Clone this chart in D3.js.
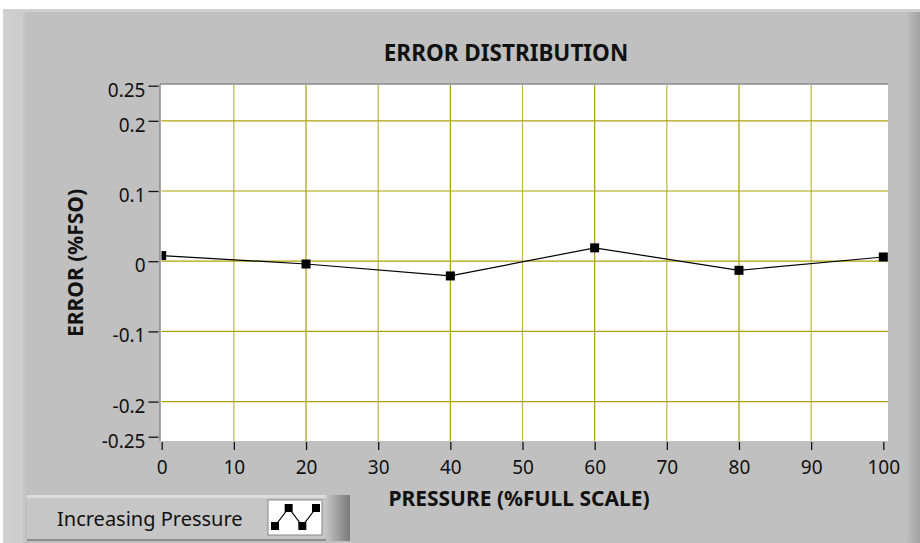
<!DOCTYPE html>
<meta charset="utf-8">
<style>
  body { margin: 0; padding: 0; background: #fff; }
  svg text { font-family: 'Noto Sans', 'Open Sans', sans-serif; fill: #111; }
  .tick text { font-size: 19px; }
  .ttl { font-size: 21px; font-weight: 700; }
</style>
<script src="https://d3js.org/d3.v7.min.js"></script>
<body>
<div id="chart"></div>
<script>
  // data
  let pressure = [0, 20, 40, 60, 80, 100];
  let errorVals = [0.008, -0.004, -0.021, 0.019, -0.013, 0.006];
  let xTicks = [0, 10, 20, 30, 40, 50, 60, 70, 80, 90, 100];
  let yTicks = [0.25, 0.2, 0.1, 0, -0.1, -0.2, -0.25];
  let yGrid = [0.2, 0.1, 0, -0.1, -0.2];
  let seriesName = "Increasing Pressure";

  let W = 920, H = 543;
  // plot frame
  let plot = {left: 160, right: 888, top: 84, bottom: 441};

  let svg = d3.select("#chart").append("svg")
    .attr("width", W).attr("height", H);

  let defs = svg.append("defs");
  let gr = defs.append("linearGradient").attr("id", "rightEdge");
  gr.append("stop").attr("offset", "0%").attr("stop-color", "#bdbdbd");
  gr.append("stop").attr("offset", "100%").attr("stop-color", "#a2a2a2");
  let gl = defs.append("linearGradient").attr("id", "leftEdge");
  gl.append("stop").attr("offset", "0%").attr("stop-color", "#d2d2d2");
  gl.append("stop").attr("offset", "80%").attr("stop-color", "#cbcbcb");
  gl.append("stop").attr("offset", "100%").attr("stop-color", "#c0c0c0");
  let lg = defs.append("linearGradient").attr("id", "legRight");
  lg.append("stop").attr("offset", "0%").attr("stop-color", "#c4c4c4");
  lg.append("stop").attr("offset", "100%").attr("stop-color", "#7a7a7a");
  defs.append("clipPath").attr("id", "plotClip")
    .append("rect")
    .attr("x", plot.left + 1.5).attr("y", plot.top + 1)
    .attr("width", plot.right - plot.left - 1.5).attr("height", plot.bottom - plot.top - 1);

  // gray panel with bevels
  svg.append("rect").attr("x", 3).attr("y", 9).attr("width", W - 3).attr("height", H - 9).attr("fill", "#c0c0c0");
  svg.append("rect").attr("x", 3).attr("y", 9).attr("width", 24).attr("height", H - 9).attr("fill", "url(#leftEdge)");
  svg.append("rect").attr("x", 907).attr("y", 9).attr("width", 13).attr("height", H - 9).attr("fill", "url(#rightEdge)");
  svg.append("rect").attr("x", 3).attr("y", 9).attr("width", W - 3).attr("height", 3).attr("fill", "#cfcfcf");

  // scales
  let x = d3.scaleLinear().domain([0, 100]).range([161.7, 883.3]);
  let y = d3.scaleLinear().domain([-0.25, 0.25]).range([436.7, 85.7]);

  // plot background
  svg.append("rect")
    .attr("x", plot.left).attr("y", plot.top)
    .attr("width", plot.right - plot.left).attr("height", plot.bottom - plot.top)
    .attr("fill", "#fff");

  // grid
  let grid = svg.append("g").attr("clip-path", "url(#plotClip)");
  grid.selectAll(".vg").data(xTicks.slice(1, -1)).join("line")
    .attr("x1", d => x(d)).attr("x2", d => x(d))
    .attr("y1", plot.top).attr("y2", plot.bottom)
    .attr("stroke", (d, i) => i % 2 ? "#a9a000" : "#bdb546")
    .attr("stroke-width", 1.2);
  grid.selectAll(".hg").data(yGrid).join("line")
    .attr("x1", plot.left).attr("x2", plot.right)
    .attr("y1", d => y(d)).attr("y2", d => y(d))
    .attr("stroke", "#aca30a")
    .attr("stroke-width", 1.2);

  // frame top/left (inset look)
  svg.append("line").attr("x1", plot.left).attr("x2", plot.right).attr("y1", plot.top).attr("y2", plot.top)
    .attr("stroke", "#8a8a8a").attr("stroke-width", 1.5);
  svg.append("line").attr("x1", plot.left).attr("x2", plot.left).attr("y1", plot.top).attr("y2", plot.bottom)
    .attr("stroke", "#8a8a8a").attr("stroke-width", 1.5);

  // axes
  let yAxis = svg.append("g")
    .attr("transform", `translate(${plot.left - 1.5},0)`)
    .call(d3.axisLeft(y).tickValues(yTicks).tickSize(10).tickPadding(3)
      .tickFormat(d => d === 0 ? "0" : String(d)));
  yAxis.select(".domain").remove();
  yAxis.selectAll(".tick line").attr("stroke", "#111").attr("stroke-width", 1.3);
  yAxis.selectAll(".tick text").attr("dy", "0.55em");

  let xAxis = svg.append("g")
    .attr("transform", `translate(0,${plot.bottom + 1})`)
    .call(d3.axisBottom(x).tickValues(xTicks).tickSize(8).tickPadding(11));
  xAxis.select(".domain").remove();
  xAxis.selectAll(".tick line").attr("stroke", "#111").attr("stroke-width", 1.3);

  // series
  let pts = pressure.map((p, i) => [p, errorVals[i]]);
  let series = svg.append("g").attr("clip-path", "url(#plotClip)");
  series.append("path")
    .attr("d", d3.line().x(d => x(d[0])).y(d => y(d[1]))(pts))
    .attr("fill", "none").attr("stroke", "#000").attr("stroke-width", 1.2);
  series.selectAll(".mk").data(pts).join("rect")
    .attr("x", d => x(d[0]) - 4.5).attr("y", d => y(d[1]) - 4.5)
    .attr("width", 9).attr("height", 9).attr("fill", "#000");

  // titles
  svg.append("text").attr("class", "ttl")
    .attr("x", 506).attr("y", 61).attr("text-anchor", "middle")
    .style("font-size", "22.5px")
    .text("ERROR DISTRIBUTION");
  svg.append("text").attr("class", "ttl")
    .attr("x", 519).attr("y", 506).attr("text-anchor", "middle")
    .text("PRESSURE (%FULL SCALE)");
  svg.append("text").attr("class", "ttl")
    .attr("transform", "translate(83,263) rotate(-90)")
    .attr("text-anchor", "middle")
    .text("ERROR (%FSO)");

  // legend
  let leg = svg.append("g");
  leg.append("rect").attr("x", 27).attr("y", 495).attr("width", 323).attr("height", 46).attr("fill", "#c6c6c6");
  leg.append("rect").attr("x", 27).attr("y", 495).attr("width", 323).attr("height", 3).attr("fill", "#dcdcdc");
  leg.append("rect").attr("x", 27).attr("y", 539).attr("width", 323).attr("height", 2).attr("fill", "#8c8c8c");
  leg.append("rect").attr("x", 326).attr("y", 495).attr("width", 24).attr("height", 46).attr("fill", "url(#legRight)");
  leg.append("text").attr("x", 57).attr("y", 526).style("font-size", "20px").text(seriesName);
  leg.append("rect").attr("x", 268).attr("y", 500).attr("width", 54).attr("height", 35)
    .attr("fill", "#fff").attr("stroke", "#888").attr("stroke-width", 1);
  // legend icon: a small sample of the line style
  let iconX = d3.scaleLinear().domain([0, 3]).range([275, 316]);
  let iconY = d3.scaleLinear().domain([0, 1]).range([526, 508]);
  let iconPts = [[0, 0], [1, 1], [2, 0], [3, 1]];
  leg.append("path")
    .attr("d", d3.line().x(d => iconX(d[0])).y(d => iconY(d[1]))(iconPts))
    .attr("fill", "none").attr("stroke", "#000").attr("stroke-width", 1.2);
  leg.selectAll(".ik").data(iconPts).join("rect")
    .attr("x", d => iconX(d[0]) - 4).attr("y", d => iconY(d[1]) - 4)
    .attr("width", 8).attr("height", 8).attr("fill", "#000");
</script>
</body>
